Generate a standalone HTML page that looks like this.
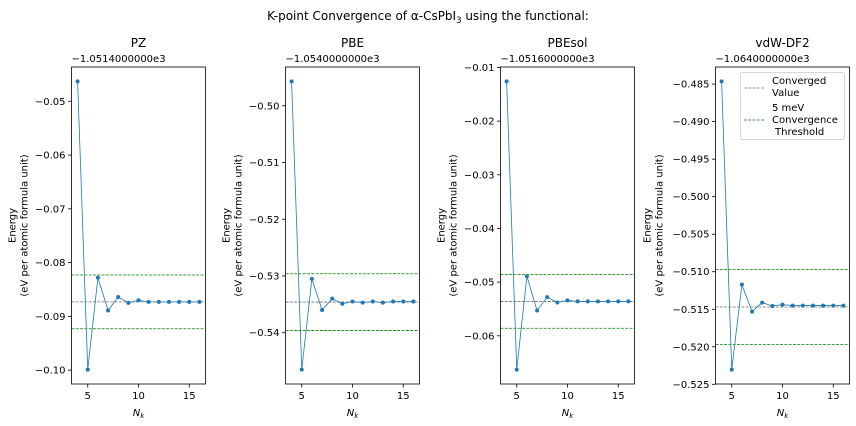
<!DOCTYPE html>
<html><head><meta charset="utf-8"><style>
body{margin:0;background:#fff;}
svg{display:block;font-family:"DejaVu Sans","Liberation Sans",sans-serif;}
</style></head><body>
<svg id="fig" width="856" height="426" viewBox="0 0 856 426" xmlns="http://www.w3.org/2000/svg">
<rect width="856" height="426" fill="#fff"/>
<text x="428" y="20" font-size="12" text-anchor="middle">K-point Convergence of α-CsPbI<tspan font-size="8.5" dy="3">3</tspan><tspan dy="-3"> using the functional:</tspan></text>
</svg>
<script>
const nk = [4,5,6,7,8,9,10,11,12,13,14,15,16];
const panelNames = ["PZ","PBE","PBEsol","vdW-DF2"];
const offsets = ["\u22121.0514000000e3","\u22121.0540000000e3","\u22121.0516000000e3","\u22121.0640000000e3"];
const energyPZ = [-0.0463,-0.0999,-0.0828,-0.0889,-0.0864,-0.0875,-0.0870,-0.0873,-0.0873,-0.0873,-0.0873,-0.0873,-0.0873];
const energyPBE = [-0.4957,-0.5465,-0.5305,-0.5360,-0.5340,-0.5349,-0.5345,-0.5347,-0.5345,-0.5347,-0.5345,-0.5345,-0.5345];
const energyPBEsol = [-0.0126,-0.0663,-0.0489,-0.0553,-0.0528,-0.0538,-0.0534,-0.0536,-0.0536,-0.0536,-0.0536,-0.0536,-0.0536];
const energyVdW = [-0.48464,-0.52304,-0.51171,-0.51531,-0.51411,-0.51456,-0.51438,-0.51451,-0.51451,-0.51451,-0.51451,-0.51451,-0.51451];
const convergedValues = [-0.0873,-0.5346,-0.0536,-0.5147];
const threshold = 0.005;
const yTicksPZ = [-0.05,-0.06,-0.07,-0.08,-0.09,-0.10];
const yTicksPBE = [-0.50,-0.51,-0.52,-0.53,-0.54];
const yTicksPBEsol = [-0.01,-0.02,-0.03,-0.04,-0.05,-0.06];
const yTicksVdW = [-0.485,-0.490,-0.495,-0.500,-0.505,-0.510,-0.515,-0.520,-0.525];
const yDecimals = [2,2,2,3];
const xTicks = [5,10,15];

const series = [energyPZ,energyPBE,energyPBEsol,energyVdW];
const yTicks = [yTicksPZ,yTicksPBE,yTicksPBEsol,yTicksVdW];
const lefts = [71.5,285.5,500.5,715.5];
const W = 134, TOP = 67, BOT = 384;
const svg = document.getElementById('fig');
const NS = 'http://www.w3.org/2000/svg';
function mk(tag, attrs, parent){const e=document.createElementNS(NS,tag);for(const k in attrs)e.setAttribute(k,attrs[k]);(parent||svg).appendChild(e);return e;}

panelNames.forEach((name,i)=>{
  const L = lefts[i], R = L+W, data = series[i];
  const g = mk('g',{});
  
  
  const mn = Math.min(...data), mx = Math.max(...data), pad=(mx-mn)*0.05;
  const y0 = mn-pad, y1 = mx+pad;
  const xs = v => L + (v-3.4)/(16.6-3.4)*W;
  const ys = v => BOT - (v-y0)/(y1-y0)*(BOT-TOP);
  const t = mk('text',{x:L+W/2,y:47,'font-size':12,'text-anchor':'middle'},g);
  t.textContent = name;
  
  
  const off = mk('text',{x:L,y:62,'font-size':10},g);
  off.textContent = offsets[i];
  
  
  [[convergedValues[i]+threshold,'#008000','threshold-upper'],[convergedValues[i]-threshold,'#008000','threshold-lower'],[convergedValues[i],'#707070','converged-line']].forEach(h=>{
    const yy = ys(h[0]);
    const ln = mk('line',{x1:L,x2:R,y1:yy,y2:yy,stroke:h[1],'stroke-width':0.8,'stroke-dasharray':'3,1.3'},g);
    
    
  });
  const pts = data.map((v,j)=>xs(nk[j]).toFixed(2)+','+ys(v).toFixed(2)).join(' ');
  const pl = mk('polyline',{points:pts,fill:'none',stroke:'#1f77b4','stroke-width':0.8},g);
  
  
  data.forEach((v,j)=>{
    const c = mk('circle',{cx:xs(nk[j]),cy:ys(v),r:2,fill:'#1f77b4'},g);
    
    
  });
  const fr = mk('rect',{x:L,y:TOP,width:W,height:BOT-TOP,fill:'none',stroke:'#000','stroke-width':0.8},g);
  
  
  yTicks[i].forEach(v=>{
    const yy = ys(v);
    mk('line',{x1:L-3.5,x2:L,y1:yy,y2:yy,stroke:'#000','stroke-width':0.8},g);
    const tl = mk('text',{x:L-6,y:yy+3.5,'font-size':10,'text-anchor':'end'},g);
    tl.textContent = v.toFixed(yDecimals[i]).replace('-','\u2212');
    
    
  });
  xTicks.forEach(v=>{
    const xx = xs(v);
    mk('line',{x1:xx,x2:xx,y1:BOT,y2:BOT+3.5,stroke:'#000','stroke-width':0.8},g);
    const tl = mk('text',{x:xx,y:BOT+15,'font-size':10,'text-anchor':'middle'},g);
    tl.textContent = v;
    
    
  });
  const xl = mk('text',{x:L+W/2,y:416,'font-size':10,'text-anchor':'middle','font-style':'italic'},g);
  xl.innerHTML = 'N<tspan font-size="7" dy="2">k</tspan>';
  
  
  const ylx = i===3 ? L-59 : L-50;
  const yl = mk('text',{transform:'translate('+ylx+','+((TOP+BOT)/2)+') rotate(-90)','font-size':10,'text-anchor':'middle'},g);
  yl.innerHTML = '<tspan x="0" dy="-6">Energy</tspan><tspan x="0" dy="12">(eV per atomic formula unit)</tspan>';
  
  
});

const lg = mk('g',{});


mk('rect',{x:740.5,y:72.5,width:104,height:67,rx:2,fill:'#fff',stroke:'#ccc','stroke-width':0.8},lg);
const e1 = mk('line',{x1:744,x2:764,y1:88,y2:88,stroke:'#808080','stroke-width':0.8,'stroke-dasharray':'3,1.3'},lg);


const e2 = mk('line',{x1:744,x2:764,y1:120,y2:120,stroke:'#008000','stroke-width':0.8,'stroke-dasharray':'3,1.3'},lg);


[['Converged',84,772],['Value',96,772],['5 meV',111,772],['Convergence',123,772],['Threshold',135,775]].forEach(a=>{
  const t = mk('text',{x:a[2],y:a[1],'font-size':10},lg);
  t.textContent = a[0];
  
  
});
</script>
</body></html>
